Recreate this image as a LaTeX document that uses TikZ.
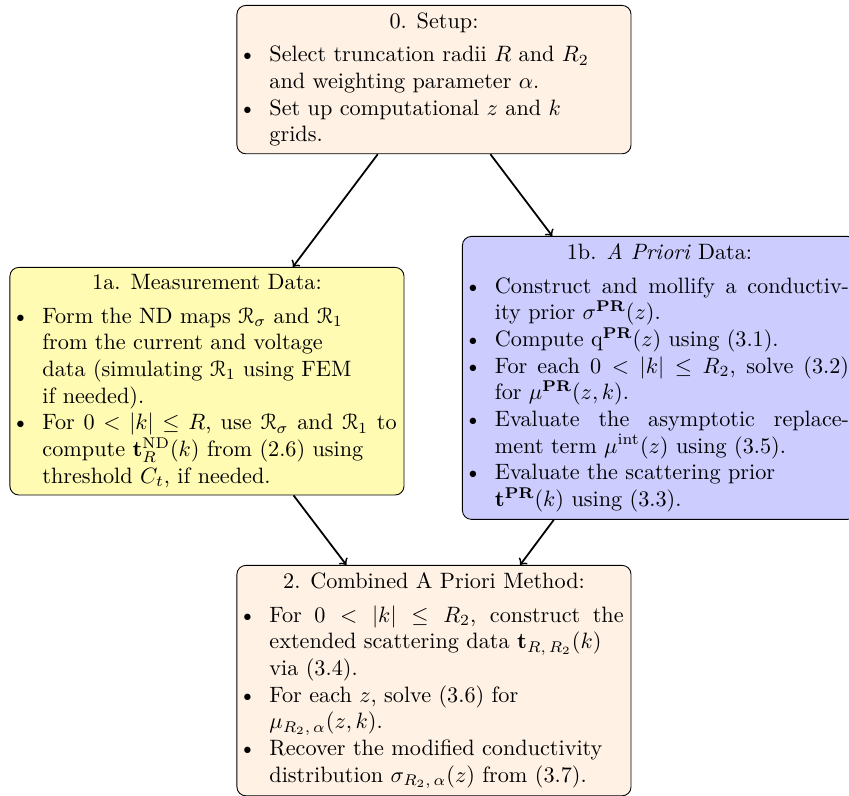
\documentclass[tikz,border=0pt]{standalone}
\usepackage{amsmath,amssymb}
\usepackage[mathcal]{euscript}
\usepackage{enumitem}
\setlist[itemize]{nosep, topsep=3pt, leftmargin=11.3pt, labelsep=6pt}

\begin{document}
\begin{tikzpicture}[
    blk/.style ={
        draw=black,
        rounded corners,
        text width=6cm,
        align=justify,
        anchor=north
    }
    ]
    \useasboundingbox (0,0) rectangle (13.43,-12.59);

    \node[blk, fill=orange!10] (setup) at (6.865,-0.079) {
        {\centering 0. Setup:\par}
        \begin{itemize}
            \item Select truncation radii $R$ and $R_2$\newline and weighting parameter $\alpha$.
            \item Set up computational $z$ and $k$\newline grids.
        \end{itemize}};

    \node[blk, fill=yellow!30] (meas) at (3.274,-4.223) {
        {\centering 1a. Measurement Data:\par}
        \begin{itemize}
            \item Form the ND maps $\mathcal{R}_\sigma$ and $\mathcal{R}_1$\newline from the current and voltage\newline data (simulating $\mathcal{R}_1$ using FEM\newline if needed).
            \item For $0<|k|\leq R$, use $\mathcal{R}_\sigma$ and $\mathcal{R}_1$ to\linebreak compute $\mathbf{t}^{\mathrm{ND}}_R(k)$ from (2.6) using\newline threshold $C_t$, if needed.
        \end{itemize}};

    \node[blk, fill=blue!20, anchor=north west] (prior) at (7.308,-3.733) {
        {\centering 1b. \emph{A Priori} Data:\par}
        \begin{itemize}
            \item Construct and mollify a conductiv-\linebreak ity prior $\sigma^{\mathbf{PR}}(z)$.
            \item Compute $\mathrm{q}^{\mathbf{PR}}(z)$ using (3.1).
            \item For each $0<|k|\leq R_2$, solve (3.2)\linebreak for $\mu^{\mathbf{PR}}(z,k)$.
            \item Evaluate the asymptotic replace-\linebreak ment term $\mu^{\mathrm{int}}(z)$ using (3.5).
            \item Evaluate the scattering prior\newline $\mathbf{t}^{\mathbf{PR}}(k)$ using (3.3).
        \end{itemize}};

    \node[blk, fill=orange!10] (comb) at (6.865,-8.937) {
        {\centering 2. Combined A Priori Method:\par}
        \begin{itemize}
            \item For $0<|k|\leq R_2$, construct the\linebreak extended scattering data $\mathbf{t}_{R,\,R_2}(k)$\newline via (3.4).
            \item For each $z$, solve (3.6) for\newline $\mu_{R_2,\,\alpha}(z,k)$.
            \item Recover the modified conductivity\newline distribution $\sigma_{R_2,\,\alpha}(z)$ from (3.7).
        \end{itemize}};

    \foreach \src/ \dst in {setup/meas, setup/prior, meas/comb, prior/comb}
        \draw[->, thick] (\src) -- (\dst);

\end{tikzpicture}
\end{document}
